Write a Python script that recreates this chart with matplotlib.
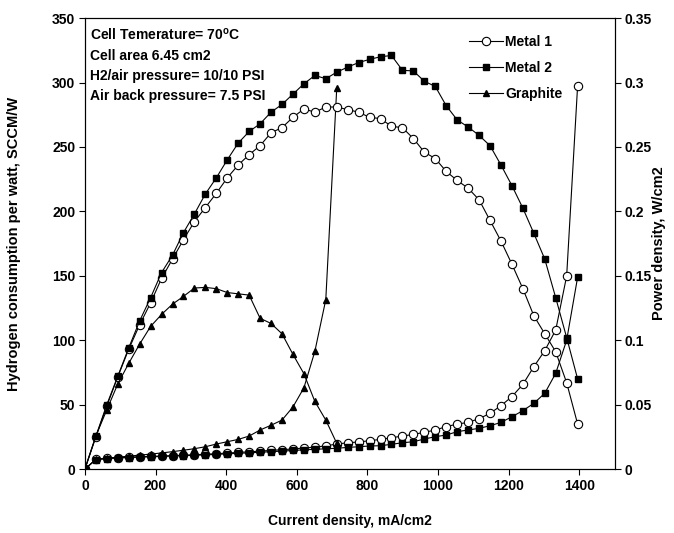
import matplotlib
matplotlib.use("Agg")
import matplotlib.pyplot as plt

plt.rcParams['font.family'] = ['Liberation Sans', 'DejaVu Sans']
plt.rcParams['font.weight'] = 'bold'
plt.rcParams['mathtext.fontset'] = 'custom'
plt.rcParams['mathtext.rm'] = 'Liberation Sans:bold'

# current density, mA/cm2
current = [0, 31, 62, 93, 124, 155, 186, 217, 248, 279, 310, 341, 372, 403, 434,
           465, 496, 527, 558, 589, 620, 651, 682, 713, 744, 775, 806, 837, 868,
           899, 930, 961, 992, 1023, 1054, 1085, 1116, 1147, 1178, 1209, 1240,
           1271, 1302, 1333, 1364, 1395]
current_graphite = current[:24]

# power density, W/cm2 (right axis)
power_metal1 = [0, 0.025, 0.049, 0.0715, 0.093, 0.112, 0.129, 0.148, 0.163, 0.178,
                0.192, 0.203, 0.214, 0.226, 0.236, 0.244, 0.251, 0.261, 0.265,
                0.273, 0.2795, 0.277, 0.281, 0.281, 0.279, 0.277, 0.273, 0.272,
                0.266, 0.265, 0.2565, 0.246, 0.241, 0.231, 0.224, 0.218, 0.209,
                0.193, 0.177, 0.159, 0.140, 0.119, 0.105, 0.091, 0.067, 0.035]
power_metal2 = [0, 0.0255, 0.050, 0.072, 0.094, 0.115, 0.133, 0.1525, 0.166,
                0.1835, 0.198, 0.2135, 0.226, 0.240, 0.253, 0.262, 0.268, 0.277,
                0.283, 0.291, 0.299, 0.3055, 0.303, 0.308, 0.312, 0.3155, 0.318,
                0.320, 0.321, 0.3095, 0.309, 0.301, 0.297, 0.282, 0.271, 0.2655,
                0.259, 0.251, 0.236, 0.220, 0.2025, 0.183, 0.163, 0.133, 0.102,
                0.070]
power_graphite = [0, 0.0257, 0.046, 0.066, 0.082, 0.097, 0.1107, 0.120, 0.128,
                  0.134, 0.1405, 0.141, 0.140, 0.137, 0.136, 0.135, 0.117, 0.113,
                  0.105, 0.089, 0.074, 0.0525, 0.038, 0.020]

# hydrogen consumption per watt, SCCM/W (left axis)
h2_metal1 = [0, 7.5, 8.3, 8.8, 9.1, 9.6, 9.8, 10.1, 10.4, 10.7, 11.1, 11.5, 11.9,
             12.4, 12.9, 13.4, 13.9, 14.5, 15.0, 15.6, 16.3, 17.0, 18.0, 19.4,
             20.4, 21.0, 22.0, 23.0, 24.3, 25.6, 26.9, 28.5, 30.3, 32.9, 34.9,
             36.2, 39.1, 43.2, 49.2, 56.2, 65.7, 79.4, 91.9, 107.9, 149.8, 297.4]
h2_metal2 = [0, 7.3, 8.1, 8.6, 8.9, 9.3, 9.5, 9.8, 10.1, 10.4, 10.7, 11.0, 11.4,
             11.8, 12.2, 12.6, 13.0, 13.5, 13.9, 14.4, 14.9, 15.3, 15.7, 16.1,
             16.8, 17.3, 17.9, 18.1, 19.2, 20.4, 21.2, 23.3, 25.1, 26.4, 29.0,
             30.3, 31.6, 33.6, 36.2, 40.6, 45.3, 51.0, 58.8, 74.3, 100.0, 148.8]
h2_graphite = [0, 7.5, 8.5, 9.2, 10.0, 10.8, 11.6, 12.5, 13.5, 14.6, 15.8, 17.3,
               19.4, 21.2, 23.0, 25.6, 30.3, 34.0, 38.0, 48.2, 63.0, 91.3, 131.5,
               295.6]

fig = plt.figure(figsize=(6.74, 5.33), dpi=100)
ax = fig.add_axes([0.126, 0.12, 0.786, 0.846])
ax2 = ax.twinx()

lw = 0.8
m1 = dict(marker='o', ms=6, mfc='white', mec='black', mew=0.8, color='black', lw=lw)
m2 = dict(marker='s', ms=4, mfc='black', mec='black', color='black', lw=lw)
gr = dict(marker='^', ms=4.5, mfc='black', mec='black', color='black', lw=lw)

ax.plot(current, h2_metal1, **m1)
ax.plot(current, h2_metal2, **m2)
ax.plot(current_graphite, h2_graphite, **gr)

l1, = ax2.plot(current, power_metal1, **m1)
l2, = ax2.plot(current, power_metal2, **m2)
l3, = ax2.plot(current_graphite, power_graphite, **gr)

ax.set_xlim(0, 1500)
ax.set_ylim(0, 350)
ax2.set_ylim(0, 0.35)
ax.set_xticks([0, 200, 400, 600, 800, 1000, 1200, 1400])
ax.set_yticks([0, 50, 100, 150, 200, 250, 300, 350])
ax2.set_yticks([0, 0.05, 0.1, 0.15, 0.2, 0.25, 0.3, 0.35])
ax2.set_yticklabels(['0', '0.05', '0.1', '0.15', '0.2', '0.25', '0.3', '0.35'])

for a in (ax, ax2):
    a.tick_params(direction='out', length=4, width=0.8, labelsize=10, pad=3)
    for s in a.spines.values():
        s.set_linewidth(0.8)

ax.set_xlabel('Current density, mA/cm2', fontsize=10, fontweight='bold', labelpad=15)
ax.set_ylabel('Hydrogen consumption per watt, SCCM/W', fontsize=10.5,
              fontweight='bold', labelpad=22)
ax2.set_ylabel('Power density, W/cm2', fontsize=10.5, fontweight='bold', labelpad=0)

notes = ['Cell Temerature= 70$^{\\mathrm{o}}$C', 'Cell area 6.45 cm2',
         'H2/air pressure= 10/10 PSI', 'Air back pressure= 7.5 PSI']
for i, t in enumerate(notes):
    ax.text(0.009, 0.9534 - i * 0.0452, t, transform=ax.transAxes,
            fontsize=10, fontweight='bold', va='baseline')

ax2.legend([l1, l2, l3], ['Metal 1', 'Metal 2', 'Graphite'], loc='upper left',
           bbox_to_anchor=(0.715, 0.975), frameon=False, fontsize=10,
           handlelength=2.4, handletextpad=0.2, labelspacing=0.85,
           borderaxespad=0)

fig.savefig('out.png', dpi=100)
